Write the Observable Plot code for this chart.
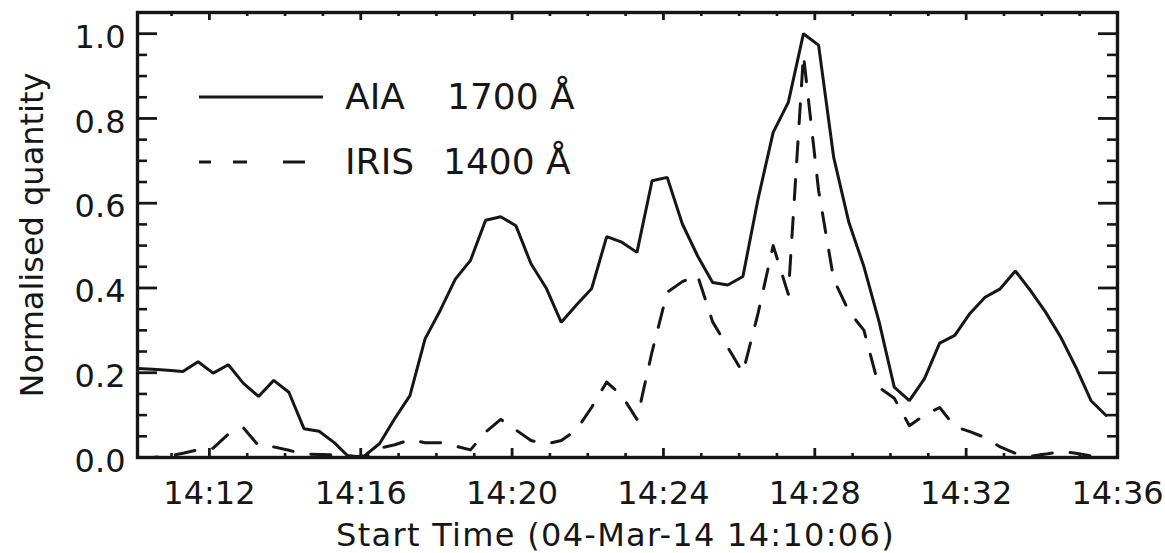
<!DOCTYPE html>
<html>
<head>
<meta charset="utf-8">
<script src="https://cdn.jsdelivr.net/npm/d3@7"></script>
<script src="https://cdn.jsdelivr.net/npm/@observablehq/plot@0.6"></script>
<style>
  html, body { margin: 0; padding: 0; background: #fff; }
  #chart svg { display: block; }
</style>
</head>
<body>
<div id="chart"></div>
<script>
// Sampling of both light curves: one value every 24 s from the start time
const startTime = "2014-03-04T14:10:06Z";
const endTime = "2014-03-04T14:36:00Z";
const cadenceSeconds = 24;

// AIA 1700 Å normalised intensity
const aia1700 = [
  0.21, 0.208, 0.206, 0.203, 0.226, 0.199, 0.219, 0.175, 0.144, 0.182,
  0.154, 0.068, 0.062, 0.035, 0.0, 0.004, 0.033, 0.092, 0.146, 0.28,
  0.347, 0.421, 0.465, 0.56, 0.568, 0.547, 0.457, 0.40, 0.319, 0.36,
  0.398, 0.521, 0.508, 0.484, 0.653, 0.661, 0.551, 0.476, 0.413, 0.407,
  0.427, 0.61, 0.767, 0.838, 1.0, 0.973, 0.708, 0.555, 0.45, 0.32,
  0.166, 0.134, 0.186, 0.27, 0.288, 0.34, 0.378, 0.398, 0.44, 0.394,
  0.343, 0.284, 0.213, 0.134, 0.099
];

// IRIS 1400 Å normalised intensity
const iris1400 = [
  0.0, 0.0, 0.003, 0.01, 0.018, 0.022, 0.055, 0.07, 0.028, 0.025,
  0.017, 0.008, 0.007, 0.006, 0.004, 0.0, 0.022, 0.03, 0.042, 0.035,
  0.035, 0.027, 0.018, 0.06, 0.09, 0.065, 0.04, 0.032, 0.04, 0.065,
  0.118, 0.178, 0.146, 0.09, 0.25, 0.39, 0.415, 0.43, 0.32, 0.26,
  0.2, 0.34, 0.5, 0.385, 0.95, 0.63, 0.42, 0.345, 0.3, 0.165,
  0.14, 0.075, 0.1, 0.118, 0.073, 0.061, 0.047, 0.025, 0.01, 0.003,
  0.008, 0.014, 0.01, 0.004, 0.002
];

// Axis ticks
const majorTimeTicks = ["14:12", "14:16", "14:20", "14:24", "14:28", "14:32", "14:36"];
const minorTimeTicks = [
  "14:11", "14:13", "14:14", "14:15", "14:17", "14:18", "14:19", "14:21", "14:22", "14:23",
  "14:25", "14:26", "14:27", "14:29", "14:30", "14:31", "14:33", "14:34", "14:35"
];
const majorValueTicks = [0.0, 0.2, 0.4, 0.6, 0.8, 1.0];
const minorValueTicks = [0.05, 0.1, 0.15, 0.25, 0.3, 0.35, 0.45, 0.5, 0.55, 0.65, 0.7, 0.75, 0.85, 0.9, 0.95];

// Legend entries
const legendNames = ["AIA", "IRIS"];
const legendBands = ["1700 Å", "1400 Å"];

const xTitle = "Start Time (04-Mar-14 14:10:06)";
const yTitle = "Normalised quantity";

// ---------------------------------------------------------------
const t0 = new Date(startTime);
const series = (values, name) =>
  values.map((v, i) => ({ time: new Date(+t0 + i * cadenceSeconds * 1000), value: v, name }));
const aiaRows = series(aia1700, "AIA");
const irisRows = series(iris1400, "IRIS");
const clock = hm => new Date(`2014-03-04T${hm}:00Z`);
const majorDates = majorTimeTicks.map(clock);
const minorDates = minorTimeTicks.map(clock);

const width = 1165, height = 553;
const marginLeft = 137, marginRight = 48, marginTop = 12, marginBottom = 96;
const innerW = width - marginLeft - marginRight;
const innerH = height - marginTop - marginBottom;
const ink = "#161616";
const font = "'DejaVu Sans', 'Liberation Sans', sans-serif";
const lineWidth = 3;
const irisDash = "20,18";

const chart = Plot.plot({
  width, height, marginLeft, marginRight, marginTop, marginBottom,
  style: { fontFamily: font, color: ink, background: "#fff", overflow: "visible" },
  x: { type: "utc", domain: [new Date(startTime), new Date(endTime)], axis: null },
  y: { domain: [0, 1.05], axis: null },
  marks: [
    // data
    Plot.line(aiaRows, { x: "time", y: "value", stroke: ink, strokeWidth: lineWidth, strokeLinejoin: "miter" }),
    Plot.line(irisRows, { x: "time", y: "value", stroke: ink, strokeWidth: lineWidth, strokeDasharray: irisDash }),
    // inward ticks on all four sides
    Plot.tickX(minorDates, { x: d => d, insetTop: innerH - 4, stroke: ink, strokeWidth: 2.6 }),
    Plot.tickX(minorDates, { x: d => d, insetBottom: innerH - 4, stroke: ink, strokeWidth: 2.6 }),
    Plot.tickX(majorDates, { x: d => d, insetTop: innerH - 9, stroke: ink, strokeWidth: 2.8 }),
    Plot.tickX(majorDates, { x: d => d, insetBottom: innerH - 8, stroke: ink, strokeWidth: 2.8 }),
    Plot.tickY(minorValueTicks, { y: d => d, insetRight: innerW - 10, stroke: ink, strokeWidth: 2.6 }),
    Plot.tickY(minorValueTicks, { y: d => d, insetLeft: innerW - 10, stroke: ink, strokeWidth: 2.6 }),
    Plot.tickY(majorValueTicks, { y: d => d, insetRight: innerW - 20, stroke: ink, strokeWidth: 2.8 }),
    Plot.tickY(majorValueTicks, { y: d => d, insetLeft: innerW - 19, stroke: ink, strokeWidth: 2.8 }),
    Plot.frame({ stroke: ink, strokeWidth: 3.4 }),
    // tick labels
    Plot.text(majorDates, {
      x: d => d, text: d => d3.utcFormat("%H:%M")(d),
      frameAnchor: "bottom", lineAnchor: "bottom", dy: 46, fontSize: 32, fill: ink
    }),
    Plot.text(majorValueTicks, {
      y: d => d, text: d => d.toFixed(1),
      frameAnchor: "left", textAnchor: "end", dx: -12, dy: 4, fontSize: 32, fill: ink
    }),
    // axis titles
    Plot.text([xTitle], {
      text: d => d, frameAnchor: "bottom", lineAnchor: "bottom", dx: -12, dy: 88, fontSize: 32, fill: ink
    }),
    Plot.text([yTitle], {
      text: d => d, frameAnchor: "left", textAnchor: "middle", lineAnchor: "bottom",
      rotate: -90, dx: -95, dy: 0, fontSize: 32, fill: ink
    })
  ]
});

// widen the x title slightly
d3.select(chart).selectAll("text").filter(function () { return this.textContent === xTitle; })
  .attr("letter-spacing", "1.3px");

// legend in the upper-left corner of the frame
const svg = d3.select(chart);
const legend = svg.append("g").attr("class", "legend")
  .attr("font-family", font).attr("font-size", 36).attr("fill", ink)
  .attr("text-anchor", "start");
const legendX = marginLeft + 62, legendY = marginTop + 85, legendGap = 65;
const sampleLengths = [124, 106];
const sampleDashes = [null, "12,22,14,36,22"];
const bandX = [legendX + 248, legendX + 244];
legendNames.forEach((name, i) => {
  const y = legendY + i * legendGap;
  legend.append("line")
    .attr("x1", legendX).attr("x2", legendX + sampleLengths[i])
    .attr("y1", y).attr("y2", y)
    .attr("stroke", ink).attr("stroke-width", lineWidth)
    .attr("stroke-dasharray", sampleDashes[i]);
  legend.append("text").attr("x", legendX + 146).attr("y", y + 12).text(name);
  legend.append("text").attr("x", bandX[i]).attr("y", y + 12).text(legendBands[i]);
});

document.getElementById("chart").append(chart);
</script>
</body>
</html>
